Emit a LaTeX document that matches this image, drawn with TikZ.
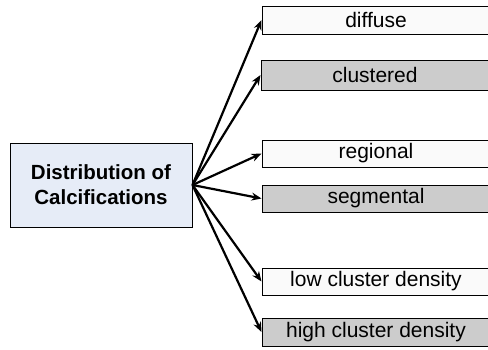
\documentclass[tikz,border=0pt]{standalone}
\usepackage{fontspec}
\setmainfont{Liberation Sans}
\usetikzlibrary{arrows.meta}
\definecolor{mainblue}{HTML}{E6ECF7}
\definecolor{boxgray}{HTML}{CCCCCC}
\definecolor{boxwhite}{HTML}{FAFAFA}
\begin{document}
\begin{tikzpicture}[x=1pt,y=-1pt,
  rbox/.style={draw=black, line width=1pt, minimum width=228pt, inner sep=0pt, font=\fontsize{21}{25}\selectfont},
  mainbox/.style={draw=black, line width=1pt, fill=mainblue, minimum width=182pt, minimum height=84pt, inner sep=0pt, align=center, font=\fontsize{20.5}{25}\selectfont\bfseries},
  conn/.style={line width=2.2pt, -{Stealth[length=10pt,width=8pt]}}]
\clip (0,0) rectangle (488,349);
\fill[white] (0,0) rectangle (488,349);
\node[mainbox] (m) at (101,185) {Distribution of\\Calcifications};
\node[rbox, fill=boxwhite, minimum height=28pt] (d) at (376,20) {diffuse};
\node[rbox, fill=boxgray, minimum height=30pt] (c) at (375,75) {clustered};
\node[rbox, fill=boxwhite, minimum height=27pt] (r) at (376,153.5) {regional};
\node[rbox, fill=boxgray, minimum height=27pt] (s) at (376,198.5) {segmental};
\node[rbox, fill=boxwhite, minimum height=27pt] (l) at (376,281.5) {low cluster density};
\node[rbox, fill=boxgray, minimum height=28pt] (h) at (376,332) {high cluster density};
\foreach \t in {d,c,r,s,l,h} \draw[conn] (m.east) -- (\t.west);
\end{tikzpicture}
\end{document}
